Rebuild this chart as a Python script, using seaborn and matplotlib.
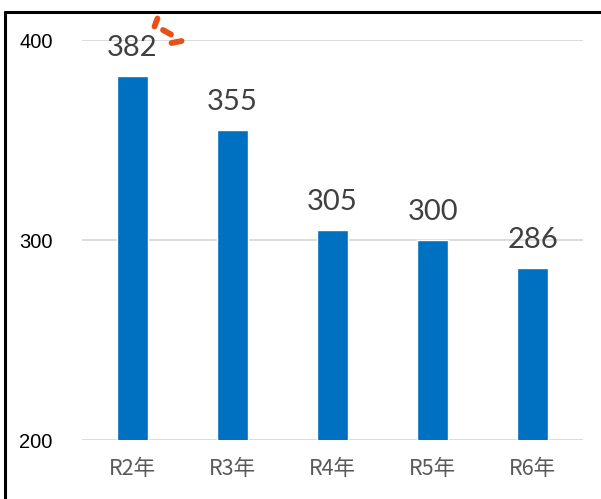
import matplotlib
matplotlib.use("Agg")
import matplotlib.pyplot as plt
import seaborn as sns
import pandas as pd
from matplotlib.lines import Line2D

categories = ["R2年", "R3年", "R4年", "R5年", "R6年"]
values = [382, 355, 305, 300, 286]
yticks = [200, 300, 400]

sns.set_theme(style="white")
plt.rcParams['font.family'] = ['Lato', 'Noto Sans CJK JP', 'DejaVu Sans']

df = pd.DataFrame({"cat": categories, "val": values})

W, H = 601, 499
fig = plt.figure(figsize=(W / 100, H / 100), dpi=100)
fig.patch.set_facecolor("white")
ax = fig.add_axes([82 / W, 1 - 440 / H, (583 - 82) / W, 400 / H])

sns.barplot(data=df, x="cat", y="val", color="#0070C0", saturation=1,
            width=0.31, ax=ax, zorder=3)
ax.set_ylim(200, 400)
ax.set_xlim(-0.5, 4.5)
ax.set_yticks(yticks)
ax.set_yticklabels([str(t) for t in yticks], fontsize=14.5, color="black",
                   family=['Liberation Sans', 'DejaVu Sans'])
ax.set_xticks(range(len(categories)))
ax.set_xticklabels(categories, fontsize=15.5, color="#595959",
                   family=['Noto Sans CJK JP', 'DejaVu Sans'])
ax.tick_params(axis="y", length=0, pad=21)
ax.tick_params(axis="x", length=0, pad=13)
ax.set_xlabel("")
ax.set_ylabel("")
ax.grid(axis="y", color="#D9D9D9", linewidth=1.3, zorder=0)
ax.grid(axis="x", visible=False)
for s in ax.spines.values():
    s.set_visible(False)

for c in ax.containers:
    labels = ax.bar_label(c, labels=[str(v) for v in values], padding=11,
                          fontsize=21, color="#404040")
    for t in labels:
        t.set_clip_on(False)

# decorative orange strokes near the first label
def fig_line(x0, y0, x1, y1, **kw):
    fig.add_artist(Line2D([x0 / W, x1 / W], [1 - y0 / H, 1 - y1 / H],
                          transform=fig.transFigure, **kw))

orange = dict(color="#E8501A", linewidth=4.2, solid_capstyle="round")
fig_line(157.5, 18.5, 154.5, 26.5, **orange)
fig_line(163, 30, 171, 34.5, **orange)
fig_line(171.5, 43, 181.5, 41, **orange)

# frame (left and top)
frame = dict(color="black", linewidth=2.2)
fig_line(4.5, 11.5, 4.5, H, **frame)
fig_line(4.5, 11.5, W, 11.5, **frame)

fig.savefig("out.png", dpi=100)
